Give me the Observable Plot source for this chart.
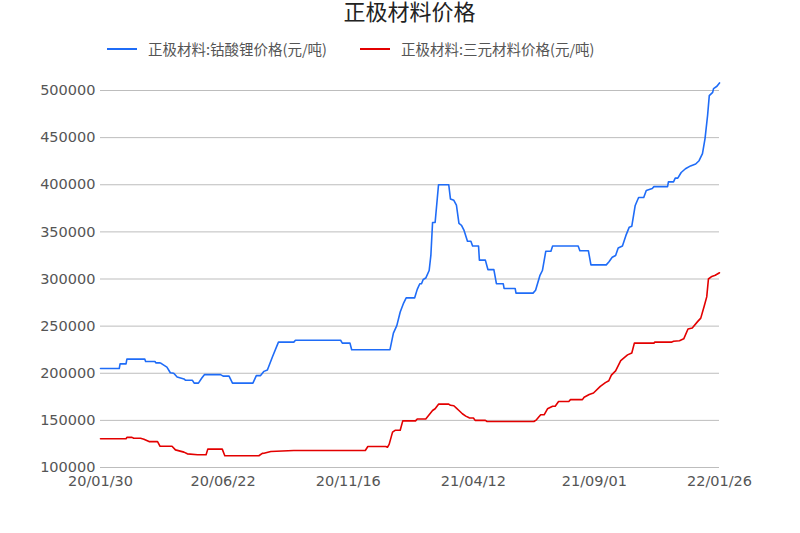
<!DOCTYPE html>
<html>
<head>
<meta charset="utf-8">
<script src="https://cdn.jsdelivr.net/npm/d3@7"></script>
<script src="https://cdn.jsdelivr.net/npm/@observablehq/plot@0.6"></script>
<style>
  html, body { margin: 0; padding: 0; background: #fff; }
  #wrap { position: relative; width: 800px; height: 533px; overflow: hidden; font-family: "Noto Sans CJK SC", "DejaVu Sans", sans-serif; }
  #title { position: absolute; left: 100px; width: 619px; top: -4px; text-align: center; font-size: 22px; line-height: 28px; color: #222; }
  .leg { position: absolute; top: 39px; font-size: 14.5px; line-height: 20px; color: #555; white-space: nowrap; }
  .sw { position: absolute; top: 48px; width: 30px; height: 2px; }
  #chart { position: absolute; left: 0; top: 70px; }
</style>
</head>
<body>
<div id="wrap">
  <div id="title"></div>
  <div id="legend"></div>
  <div id="chart"></div>
</div>
<script>
const titleText = "正极材料价格";
const seriesNames = ["正极材料:钴酸锂价格(元/吨)", "正极材料:三元材料价格(元/吨)"];
const seriesColors = ["#1f6cf7", "#e30000"];

const licoDates = ["2020-01-30","2020-02-21","2020-02-22","2020-02-29","2020-03-01","2020-03-22","2020-03-23","2020-04-03","2020-04-04","2020-04-09","2020-04-11","2020-04-17","2020-04-21","2020-04-25","2020-04-29","2020-05-07","2020-05-09","2020-05-17","2020-05-19","2020-05-24","2020-05-28","2020-05-31","2020-06-19","2020-06-22","2020-06-29","2020-07-03","2020-07-27","2020-07-31","2020-08-05","2020-08-09","2020-08-13","2020-08-19","2020-08-26","2020-09-13","2020-09-15","2020-11-07","2020-11-09","2020-11-18","2020-11-20","2021-01-04","2021-01-08","2021-01-12","2021-01-16","2021-01-20","2021-01-23","2021-02-02","2021-02-05","2021-02-08","2021-02-10","2021-02-12","2021-02-15","2021-02-19","2021-02-21","2021-02-23","2021-02-26","2021-03-02","2021-03-14","2021-03-16","2021-03-20","2021-03-23","2021-03-26","2021-03-29","2021-04-01","2021-04-05","2021-04-09","2021-04-11","2021-04-18","2021-04-19","2021-04-26","2021-04-29","2021-05-06","2021-05-09","2021-05-17","2021-05-18","2021-05-31","2021-06-01","2021-06-21","2021-06-24","2021-06-29","2021-07-02","2021-07-06","2021-07-12","2021-07-14","2021-08-13","2021-08-15","2021-08-25","2021-08-28","2021-09-15","2021-09-18","2021-09-22","2021-09-26","2021-09-29","2021-10-04","2021-10-08","2021-10-12","2021-10-15","2021-10-19","2021-10-23","2021-10-29","2021-11-01","2021-11-08","2021-11-10","2021-11-26","2021-11-27","2021-12-03","2021-12-05","2021-12-08","2021-12-12","2021-12-17","2021-12-23","2021-12-29","2022-01-02","2022-01-06","2022-01-09","2022-01-12","2022-01-14","2022-01-18","2022-01-19","2022-01-23","2022-01-26"];
const licoValues = [205000,205000,210000,210000,215000,215000,212500,212500,211000,211000,210000,206500,200500,200000,196000,194000,192500,192500,189500,189500,195000,198500,198500,197000,197000,189500,189500,197500,197500,202000,203500,217500,233000,233000,235000,235000,232000,232000,225000,225000,242500,250500,265000,274500,280000,280000,289000,295000,295000,299500,301000,309000,325000,360000,360000,400000,400000,385000,383500,378500,359000,357000,351500,340000,340000,335000,335000,320000,320000,310000,310000,295000,295000,290000,290000,285000,285000,288000,303500,309000,329500,329500,335000,335000,330000,330000,315000,315000,318000,323000,325000,333000,335000,346000,355000,356000,378000,386500,386500,394000,396000,398000,398000,403000,403000,407000,407000,413000,417000,420000,422000,425500,433000,449000,473500,494500,498000,502000,504500,508000];

const ncmDates = ["2020-01-30","2020-02-29","2020-03-01","2020-03-07","2020-03-09","2020-03-17","2020-03-21","2020-03-27","2020-04-06","2020-04-09","2020-04-23","2020-04-27","2020-05-07","2020-05-11","2020-05-23","2020-06-02","2020-06-04","2020-06-21","2020-06-24","2020-08-03","2020-08-07","2020-08-09","2020-08-17","2020-09-13","2020-12-06","2020-12-09","2020-12-30","2021-01-01","2021-01-03","2021-01-07","2021-01-10","2021-01-16","2021-01-19","2021-02-03","2021-02-05","2021-02-15","2021-02-19","2021-02-23","2021-02-26","2021-03-02","2021-03-14","2021-03-16","2021-03-20","2021-03-23","2021-03-26","2021-03-30","2021-04-03","2021-04-07","2021-04-12","2021-04-14","2021-04-26","2021-04-28","2021-06-22","2021-06-25","2021-06-30","2021-07-04","2021-07-08","2021-07-14","2021-07-17","2021-07-21","2021-08-02","2021-08-04","2021-08-18","2021-08-20","2021-08-26","2021-08-31","2021-09-08","2021-09-14","2021-09-18","2021-09-21","2021-09-26","2021-10-02","2021-10-10","2021-10-15","2021-10-18","2021-11-10","2021-11-11","2021-12-01","2021-12-03","2021-12-10","2021-12-15","2021-12-20","2021-12-25","2021-12-31","2022-01-04","2022-01-08","2022-01-11","2022-01-13","2022-01-17","2022-01-21","2022-01-26"];
const ncmValues = [130500,130500,132000,132000,131000,131000,130000,127500,127500,122500,122500,118700,116300,114500,113500,113500,119500,119500,112500,112500,115000,115200,117000,118000,118000,122300,122300,121500,124500,137500,139500,139500,149500,149500,151500,151500,156000,160500,162300,167200,167200,166000,165500,163000,160500,157000,154500,152700,152500,150000,150000,148800,148800,150600,155900,155900,162300,165000,165000,170000,170000,172000,172000,174600,177500,179000,186000,190000,192000,198000,202500,213500,219500,221500,232000,232000,233000,233000,234000,234500,236500,247000,248000,254500,258500,271000,281000,300000,302700,304000,306600];

const xTickDates = ["2020-01-30","2020-06-22","2020-11-16","2021-04-12","2021-09-01","2022-01-26"];
const xTickLabels = ["20/01/30","20/06/22","20/11/16","21/04/12","21/09/01","22/01/26"];
const yTicks = [100000,150000,200000,250000,300000,350000,400000,450000,500000];

// title & legend
document.getElementById("title").textContent = titleText;
const legend = document.getElementById("legend");
const legPos = [[107, 148], [360, 401]];
seriesNames.forEach((name, i) => {
  const sw = document.createElement("div");
  sw.className = "sw";
  sw.style.left = legPos[i][0] + "px";
  sw.style.background = seriesColors[i];
  legend.appendChild(sw);
  const t = document.createElement("div");
  t.className = "leg";
  t.style.left = legPos[i][1] + "px";
  t.textContent = name;
  legend.appendChild(t);
});

const parse = d3.utcParse("%Y-%m-%d");
const rows = [];
licoDates.forEach((d, i) => rows.push({series: seriesNames[0], date: parse(d), value: licoValues[i]}));
ncmDates.forEach((d, i) => rows.push({series: seriesNames[1], date: parse(d), value: ncmValues[i]}));
const tickDates = xTickDates.map(parse);
const labelOf = new Map(tickDates.map((d, i) => [+d, xTickLabels[i]]));

const chart = Plot.plot({
  width: 800,
  height: 463,
  marginLeft: 100,
  marginRight: 81,
  marginTop: 20,
  marginBottom: 66,
  style: {fontFamily: "'DejaVu Sans', sans-serif", background: "#fff"},
  x: {type: "utc", domain: [tickDates[0], tickDates[tickDates.length - 1]]},
  y: {domain: [100000, 500000]},
  color: {domain: seriesNames, range: seriesColors},
  marks: [
    Plot.gridY(yTicks, {stroke: "#bdbdbd", strokeOpacity: 1, strokeWidth: 1}),
    Plot.axisY(yTicks, {tickSize: 0, tickPadding: 5, fontSize: 14.5, fill: "#555", label: null, tickFormat: d => String(d)}),
    Plot.axisX(tickDates, {tickSize: 0, tickPadding: 8, fontSize: 14.5, fill: "#555", label: null, tickFormat: d => labelOf.get(+d)}),
    Plot.line(rows, {x: "date", y: "value", z: "series", stroke: "series", strokeWidth: 1.6})
  ]
});
document.getElementById("chart").appendChild(chart);
</script>
</body>
</html>
